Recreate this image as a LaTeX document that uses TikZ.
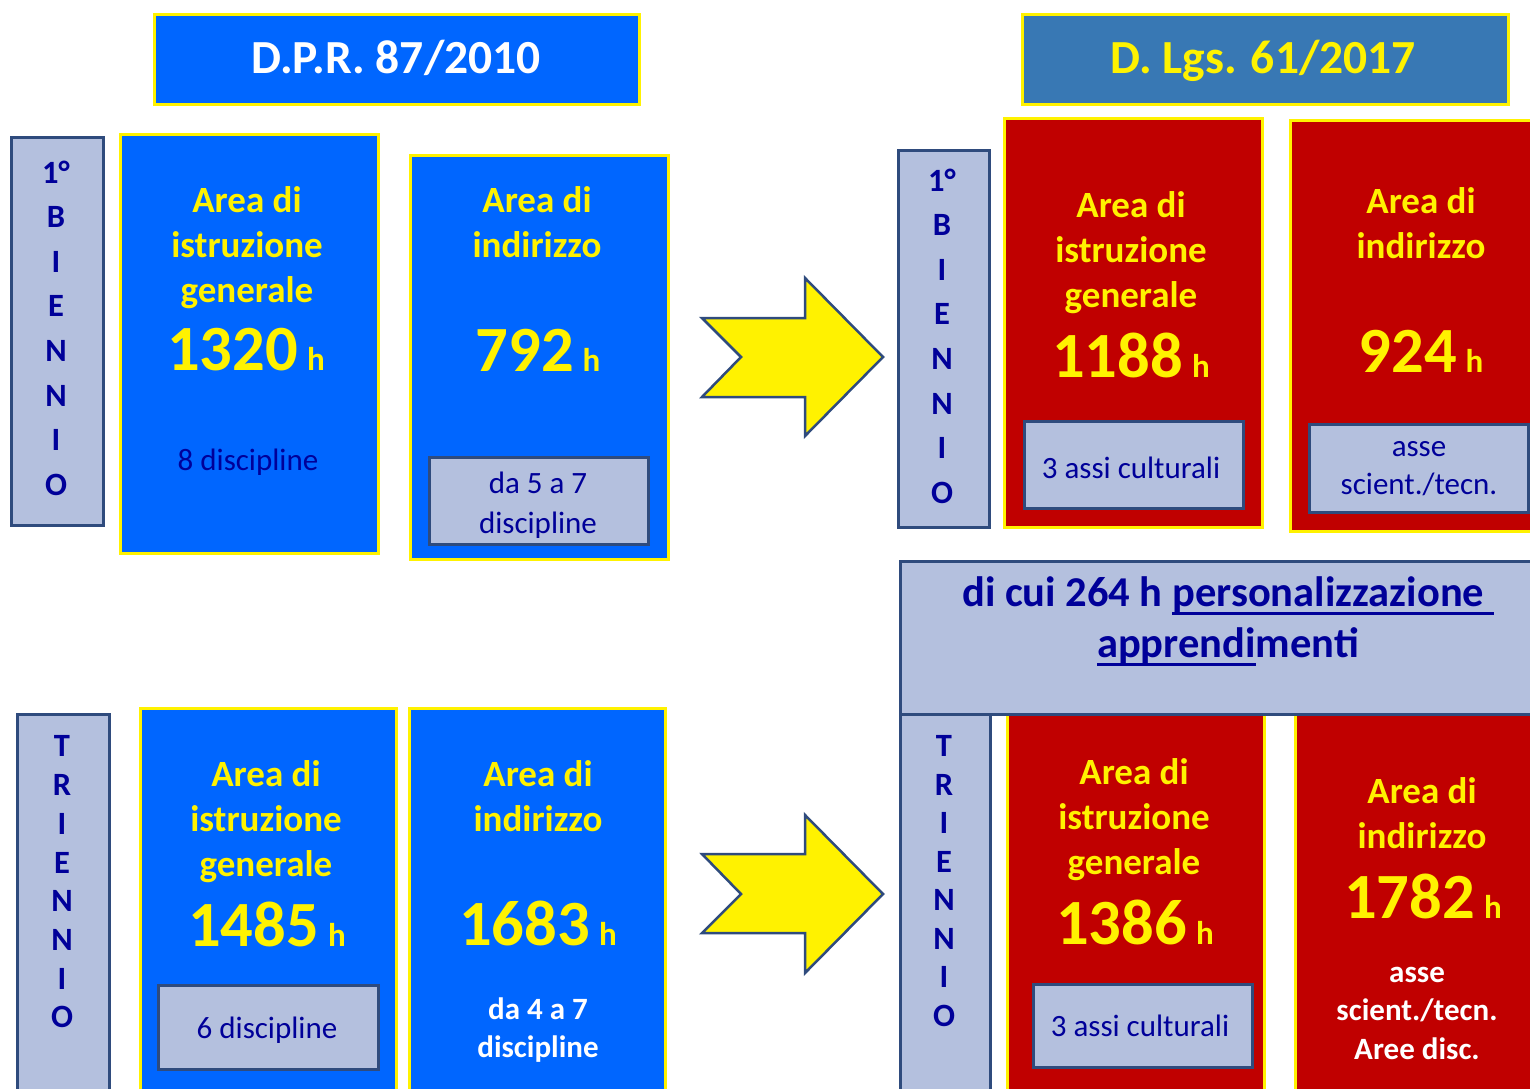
\documentclass[tikz,border=0pt]{standalone}
\usepackage{fontspec}
\setmainfont{Carlito}
\usepackage{tikz}

\definecolor{dprblue}{RGB}{0,102,255}
\definecolor{hdrblue}{RGB}{56,120,180}
\definecolor{lgsred}{RGB}{192,0,0}
\definecolor{lavender}{RGB}{180,192,222}
\definecolor{edgeblue}{RGB}{47,75,125}
\definecolor{navytext}{RGB}{0,0,153}

\newcommand{\ore}[1]{#1\hspace{9pt}{\fontsize{33}{33}\selectfont h}}
\newcommand{\sottolinea}[1]{\setbox0=\hbox{#1}\rlap{\rule[-8.5pt]{\wd0}{2.5pt}}\box0}

\begin{document}
\begin{tikzpicture}[x=1pt, y=-1pt,
  bluebox/.style={draw=yellow, line width=2.5pt, fill=dprblue, anchor=north west, minimum width=258, inner sep=0pt},
  redbox/.style={bluebox, fill=lgsred},
  labelbox/.style={draw=edgeblue, line width=2.5pt, fill=lavender, anchor=north west, minimum width=91, inner sep=0pt},
  subbox/.style={labelbox, minimum width=219, minimum height=87},
  titlebox/.style={draw=yellow, line width=2.5pt, anchor=north west, minimum width=485, minimum height=90},
  title/.style={font=\bfseries\fontsize{47.5}{47.5}\selectfont, anchor=base},
  area/.style={text=yellow, font=\bfseries\fontsize{37}{45}\selectfont, align=center},
  hours/.style={text=yellow, font=\bfseries\fontsize{64.5}{64.5}\selectfont, anchor=base},
  note/.style={text=navytext, font=\fontsize{31}{40}\selectfont, align=center},
  notew/.style={text=white, font=\bfseries\fontsize{31}{38}\selectfont, align=center},
  letters/.style={text=navytext, font=\bfseries\fontsize{32.5}{44.6}\selectfont, align=center},
  bigarrow/.style={draw=edgeblue, line width=2.5pt, fill=yellow, line join=miter}
]
\useasboundingbox (0,0) rectangle (1530,1088);
\clip (0,0) rectangle (1530,1088);
\fill[white] (0,0) rectangle (1530,1088);

% titles
\node[titlebox, fill=dprblue] (dpr) at (153,13) {};
\node[title, text=white] (dprt) at (396,73) {D.P.R. 87/2010};
\node[titlebox, fill=hdrblue, minimum width=486] (lgs) at (1021,13) {};
\node[title, text=yellow] (lgst) at (1263,73) {D. Lgs. 61/2017};

% first biennio, old
\node[labelbox, minimum width=92, minimum height=388] (bienL) at (10,136) {};
\node[letters] (bienLt) at (56,328) {1°\\B\\I\\E\\N\\N\\I\\O};
\node[bluebox, minimum height=419] (genA) at (119,133) {};
\node[area] (genAt) at (247,248) {Area di\\istruzione\\generale};
\node[hours] (genAh) at (246,370) {\ore{1320}};
\node[note, anchor=base] (genAd) at (248,470) {8 discipline};
\node[bluebox, minimum height=404] (indA) at (409,154) {};
\node[area] (indAt) at (537,222) {Area di\\indirizzo};
\node[hours] (indAh) at (538,371) {\ore{792}};
\node[subbox] (indAs) at (428,456) {};
\node[note] (indAd) at (538,505) {da 5 a 7\\discipline};

% first biennio, new
\node[labelbox, minimum height=377] (bienR) at (897,149) {};
\node[letters] (bienRt) at (942,336) {1°\\B\\I\\E\\N\\N\\I\\O};
\node[redbox, minimum height=409] (genB) at (1003,117) {};
\node[area] (genBt) at (1131,253) {Area di\\istruzione\\generale};
\node[hours] (genBh) at (1131,377) {\ore{1188}};
\node[subbox] (genBs) at (1023,420) {};
\node[note, anchor=base] (genBd) at (1131,478) {3 assi culturali};
\node[redbox, minimum height=411] (indB) at (1289,119) {};
\node[area] (indBt) at (1421,223) {Area di\\indirizzo};
\node[hours] (indBh) at (1421,372) {\ore{924}};
\node[subbox, minimum height=88] (indBs) at (1308,423) {};
\node[note, font=\fontsize{31}{38}\selectfont] (indBd) at (1419,469) {asse\\scient./tecn.};

% triennio, old
\node[labelbox, minimum width=92, minimum height=400] (triL) at (16,713) {};
\node[letters, font=\bfseries\fontsize{32.5}{38.7}\selectfont] (triLt) at (62,882) {T\\R\\I\\E\\N\\N\\I\\O};
\node[bluebox, minimum width=256, minimum height=400] (genC) at (139,707) {};
\node[area] (genCt) at (266,822) {Area di\\istruzione\\generale};
\node[hours] (genCh) at (267,946) {\ore{1485}};
\node[subbox, minimum width=220, minimum height=84] (genCs) at (157,984) {};
\node[note, anchor=base] (genCd) at (267,1038) {6 discipline};
\node[bluebox, minimum width=256, minimum height=400] (indC) at (408,707) {};
\node[area] (indCt) at (538,796) {Area di\\indirizzo};
\node[hours] (indCh) at (538,945) {\ore{1683}};
\node[notew] (indCd) at (538,1030) {da 4 a 7\\discipline};

% triennio, new
\node[labelbox, minimum width=90, minimum height=400] (triR) at (899,705) {};
\node[letters, font=\bfseries\fontsize{32.5}{38.5}\selectfont] (triRt) at (944,881) {T\\R\\I\\E\\N\\N\\I\\O};
\node[redbox, minimum width=257, minimum height=400] (genD) at (1006,705) {};
\node[area] (genDt) at (1134,820) {Area di\\istruzione\\generale};
\node[hours] (genDh) at (1135,944) {\ore{1386}};
\node[subbox, minimum height=83] (genDs) at (1032,983) {};
\node[note, anchor=base] (genDd) at (1140,1036) {3 assi culturali};
\node[redbox, minimum height=400] (indD) at (1294,705) {};
\node[area] (indDt) at (1422,813) {Area di\\indirizzo};
\node[hours] (indDh) at (1423,918) {\ore{1782}};
\node[notew, font=\bfseries\fontsize{31}{38.5}\selectfont] (indDd) at (1417,1013) {asse\\scient./tecn.\\Aree disc.};

% personalizzazione
\node[labelbox, minimum width=660, minimum height=153] (pers) at (899,560) {};
\node[text=navytext, font=\bfseries\fontsize{42.5}{51}\selectfont, align=center] (perst) at (1228,621)
  {di cui 264 h \sottolinea{personalizzazione\ }\\\sottolinea{apprendi}menti};

% arrows
\draw[bigarrow] (702,318) -- (805,318) -- (805,278) -- (883,357) -- (805,436) -- (805,397) -- (702,397) -- (741,357) -- cycle;
\draw[bigarrow] (702,854) -- (805,854) -- (805,815) -- (883,894) -- (805,973) -- (805,933) -- (702,933) -- (741,894) -- cycle;
\end{tikzpicture}
\end{document}
